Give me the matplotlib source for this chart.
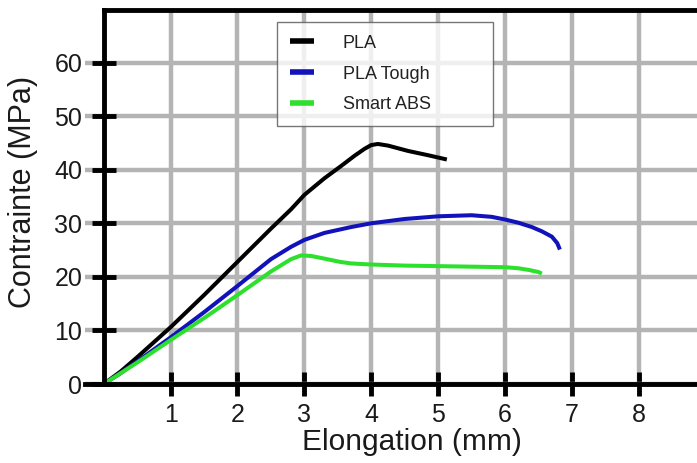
import matplotlib
matplotlib.use("Agg")
import matplotlib.pyplot as plt

plt.rcParams['font.family'] = ['Liberation Sans', 'DejaVu Sans']

pla_x = [0, 0.25, 0.5, 1, 1.5, 2, 2.5, 2.8, 3, 3.3, 3.55, 3.75, 3.9, 4.0, 4.1, 4.25, 4.55, 4.85, 5.13]
pla_y = [0, 2.3, 5.0, 10.6, 16.6, 22.8, 29.0, 32.6, 35.3, 38.4, 40.7, 42.6, 43.9, 44.6, 44.8, 44.5, 43.5, 42.7, 41.9]

tough_x = [0, 0.25, 0.5, 1, 1.5, 2, 2.5, 2.8, 3, 3.3, 3.7, 4, 4.5, 5, 5.5, 5.8, 6, 6.2, 6.4, 6.55, 6.7, 6.78, 6.82]
tough_y = [0, 2.0, 4.2, 8.7, 13.4, 18.3, 23.3, 25.6, 26.9, 28.2, 29.3, 30.0, 30.8, 31.3, 31.5, 31.2, 30.7, 30.1, 29.3, 28.5, 27.5, 26.3, 25.1]

abs_x = [0, 0.25, 0.5, 1, 1.5, 2, 2.5, 2.8, 2.95, 3.1, 3.3, 3.53, 3.7, 4, 4.5, 5, 5.5, 6, 6.2, 6.35, 6.5, 6.55]
abs_y = [0, 2.0, 4.0, 8.2, 12.3, 16.6, 21.0, 23.3, 24.0, 23.9, 23.4, 22.8, 22.5, 22.3, 22.1, 22.0, 21.9, 21.8, 21.6, 21.3, 20.9, 20.6]

x_ticks = [1, 2, 3, 4, 5, 6, 7, 8]
y_ticks = [0, 10, 20, 30, 40, 50, 60]

fig = plt.figure(figsize=(6.97, 4.63), dpi=100)
ax = fig.add_axes([85 / 697, 1 - 384 / 463, 1 - 85 / 697, (384 - 9.5) / 463])

ax.set_xlim(-0.28, 8.87)
ax.set_ylim(0, 69.9)
ax.set_xticks(x_ticks)
ax.set_yticks(y_ticks)
ax.grid(True, color='#b4b4b4', linewidth=3.2)
ax.set_axisbelow(True)

lw = 2.9
ax.plot(pla_x, pla_y, color='black', lw=lw, label='PLA', solid_capstyle='butt')
ax.plot(tough_x, tough_y, color='#1212bb', lw=lw, label='PLA Tough', solid_capstyle='butt')
ax.plot(abs_x, abs_y, color='#2ee02e', lw=lw, label='Smart ABS', solid_capstyle='butt')

ax.spines['left'].set_position(('data', 0))
ax.spines['top'].set_bounds(0, 8.87)
for s in ['left', 'bottom', 'top']:
    ax.spines[s].set_linewidth(3.5)
    ax.spines[s].set_color('black')
ax.spines['right'].set_visible(False)

ax.tick_params(axis='both', direction='inout', length=17, width=3.5,
               labelsize=18, colors='black', labelcolor='#1a1a1a')
ax.tick_params(axis='x', pad=5)
ax.tick_params(axis='y', pad=7)

ax.set_xlabel('Elongation (mm)', fontsize=21.5, color='#1a1a1a')
ax.set_ylabel('Contrainte (MPa)', fontsize=22, color='#1a1a1a')
ax.yaxis.set_label_coords(-0.076, 0.512)
ax.xaxis.set_label_coords(0.534, -0.118)

leg = ax.legend(loc='upper left', bbox_to_anchor=(0.3137, 0.686, 0.353, 0.2806),
                mode='expand', fontsize=13, frameon=True, fancybox=False,
                edgecolor='#555555', handlelength=1.33, handletextpad=1.6,
                borderpad=0.7, labelspacing=0.77, borderaxespad=0)
leg.get_frame().set_linewidth(1.0)
for t in leg.get_texts():
    t.set_color('#222222')
for l in leg.get_lines():
    l.set_linewidth(4)

fig.savefig('out.png', dpi=100)
